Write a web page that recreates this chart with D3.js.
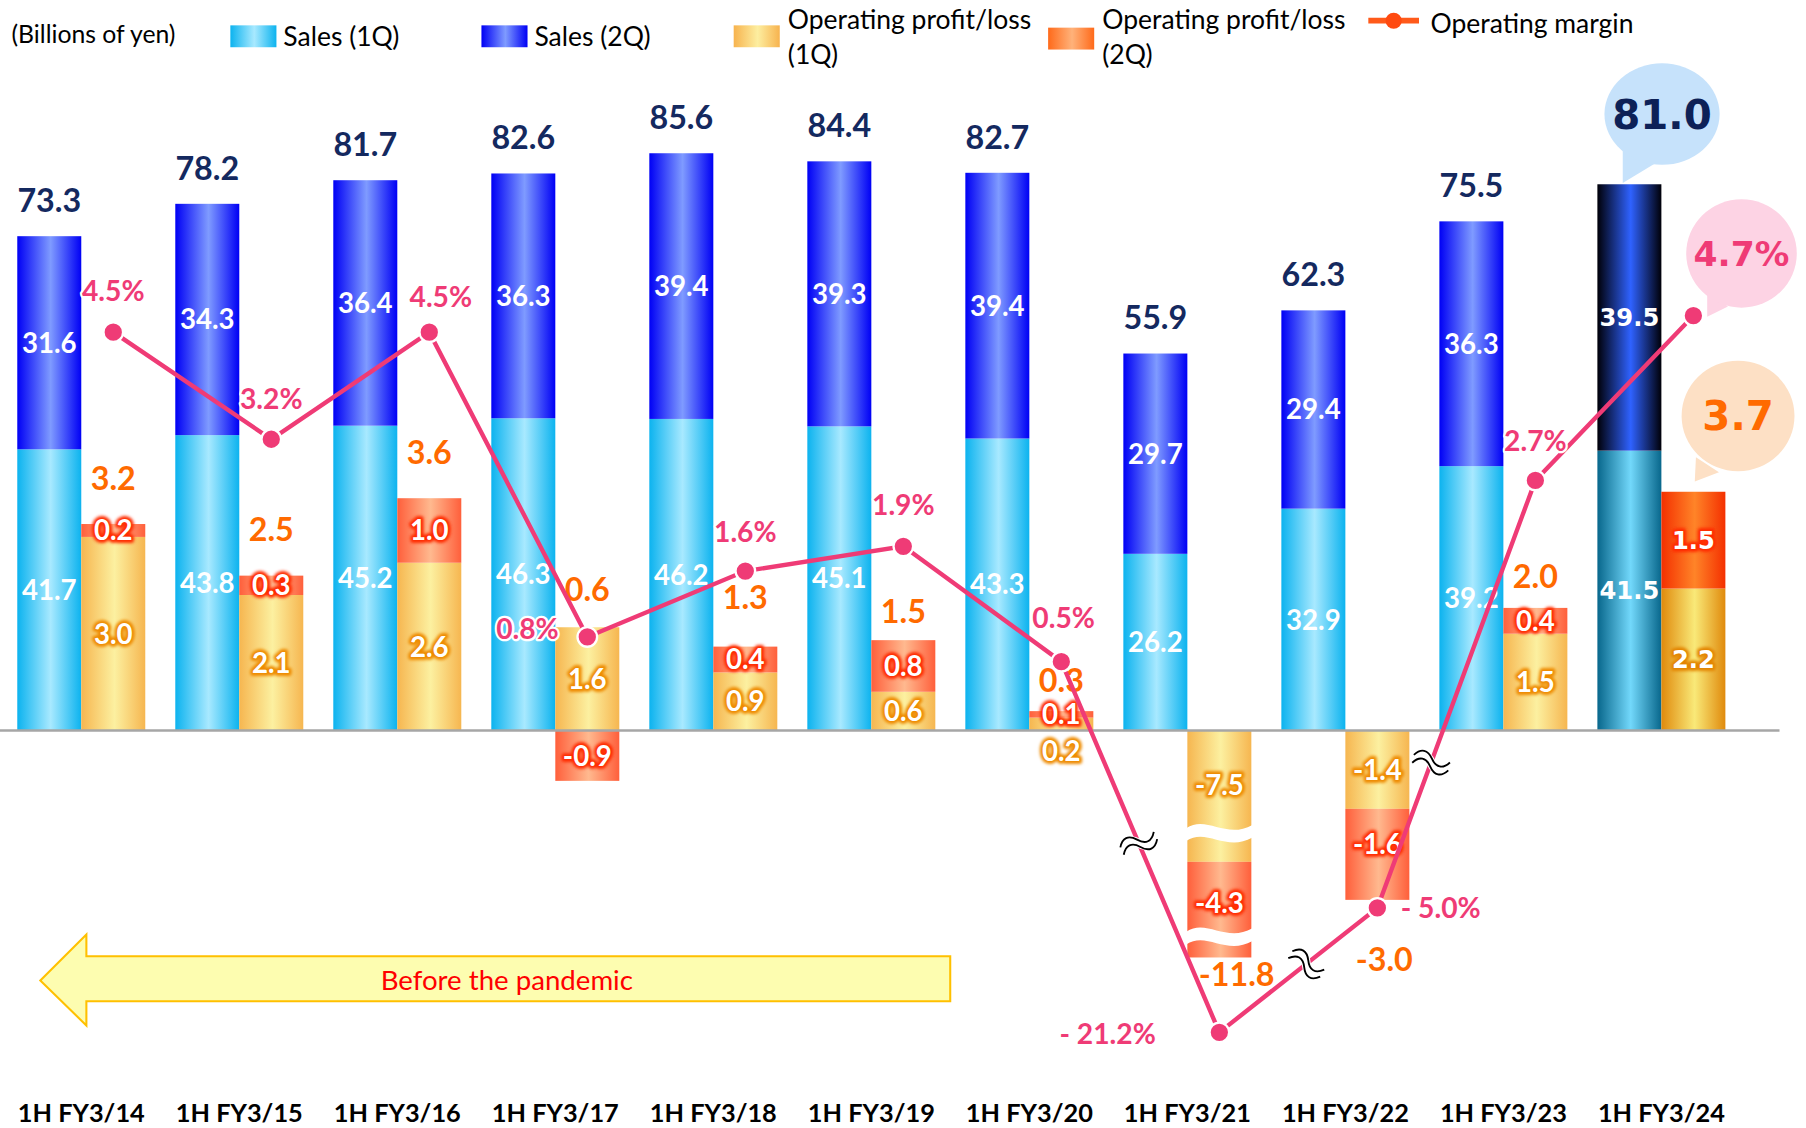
<!DOCTYPE html>
<html><head><meta charset="utf-8">
<script src="https://cdn.jsdelivr.net/npm/d3@7"></script>
<style>html,body{margin:0;padding:0;background:#fff;overflow:hidden}</style>
</head><body><svg id="chart"></svg>
<script>
// ---------- DATA ----------
const categories = ["1H FY3/14","1H FY3/15","1H FY3/16","1H FY3/17","1H FY3/18","1H FY3/19","1H FY3/20","1H FY3/21","1H FY3/22","1H FY3/23","1H FY3/24"];
const sales1Q = [41.7, 43.8, 45.2, 46.3, 46.2, 45.1, 43.3, 26.2, 32.9, 39.2, 41.5];
const sales2Q = [31.6, 34.3, 36.4, 36.3, 39.4, 39.3, 39.4, 29.7, 29.4, 36.3, 39.5];
const salesTotal = [73.3, 78.2, 81.7, 82.6, 85.6, 84.4, 82.7, 55.9, 62.3, 75.5, 81.0];
const profit1Q = [3.0, 2.1, 2.6, 1.6, 0.9, 0.6, 0.2, -7.5, -1.4, 1.5, 2.2];
const profit2Q = [0.2, 0.3, 1.0, -0.9, 0.4, 0.8, 0.1, -4.3, -1.6, 0.4, 1.5];
const profitTotal = [3.2, 2.5, 3.6, 0.6, 1.3, 1.5, 0.3, -11.8, -3.0, 2.0, 3.7];
const margin = [4.5, 3.2, 4.5, 0.8, 1.6, 1.9, 0.5, -21.2, -5.0, 2.7, 4.7];
const marginLabels = ["4.5%","3.2%","4.5%","0.8%","1.6%","1.9%","0.5%","- 21.2%","- 5.0%","2.7%","4.7%"];
const legendItems = ["Sales (1Q)","Sales (2Q)","Operating profit/loss|(1Q)","Operating profit/loss|(2Q)","Operating margin"];
const unitLabel = "(Billions of yen)";
const arrowLabel = "Before the pandemic";
const highlightCat = "1H FY3/24";
const brokenCat = "1H FY3/21";

// ---------- LAYOUT (drawing space 1568 x 979, scaled to window) ----------
const VW = 1568, VH = 979;
const CAL = "Lato, 'Open Sans', sans-serif";
const VER = "'DejaVu Sans', Verdana, sans-serif";
const PINK = "#ef3b76", ORANGE = "#ff6a00", NAVY = "#14295f";

const svg = d3.select('#chart').attr('width', 1806).attr('height', 1128)
  .attr('viewBox', `0 0 ${VW} ${VH}`).attr('preserveAspectRatio', 'none');

const x = d3.scaleBand().domain(categories).range([15, 1498]).paddingInner(0.19).paddingOuter(0);
const sub = d3.scaleBand().domain(['sales','profit']).range([0, x.bandwidth()]);
const ySales = d3.scaleLinear().domain([0, 85.6]).range([634, 133]);
const yProfit = d3.scaleLinear().domain([-3.0, -1.4, 0, 4]).range([781, 702, 634, 410]);
const yProfitBroken = d3.scaleLinear().domain([-11.8, -7.5, 0]).range([831, 748, 634]);
const yMargin = d3.scaleLinear().domain([-21.2, -5.0, 0, 4.7]).range([896, 788, 610, 274]);

// ---------- GRADIENTS ----------
const defs = svg.append('defs');
const palettes = {
  s1: ['#0cb3ef', '#a8e9ff'], s2: ['#0000f5', '#7f9bff'],
  p1: ['#f6b650', '#fcf0a0'], p2: ['#ff5f3b', '#ffb98f'],
  s1h: ['#08678c', '#72d8fb'], s2h: ['#000008', '#2f62ff'],
  p1h: ['#e08a0c', '#f9e978'], p2h: ['#f43000', '#ff8428'],
  l3: ['#f7b34e', '#fdeea0'], l4: ['#ff6a1a', '#ffb27a']
};
Object.entries(palettes).forEach(([k, [e, c]]) => {
  const g = defs.append('linearGradient').attr('id', 'g_' + k).attr('x1', '0%').attr('x2', '100%').attr('y1', '0%').attr('y2', '0%');
  g.append('stop').attr('offset', '0%').attr('stop-color', e);
  g.append('stop').attr('offset', '52%').attr('stop-color', c);
  g.append('stop').attr('offset', '100%').attr('stop-color', e);
});
const blur = defs.append('filter').attr('id', 'glow').attr('x', '-20%').attr('y', '-20%').attr('width', '140%').attr('height', '140%');
blur.append('feGaussianBlur').attr('stdDeviation', 1.2);

// ---------- BARS ----------
const gBars = svg.append('g');
categories.forEach((c, i) => {
  const hl = c === highlightCat;
  const sx = x(c) + sub('sales'), px = x(c) + sub('profit'), w = sub.bandwidth();
  gBars.append('rect').attr('x', sx).attr('width', w)
    .attr('y', ySales(sales1Q[i])).attr('height', ySales(0) - ySales(sales1Q[i]))
    .attr('fill', `url(#g_${hl ? 's1h' : 's1'})`);
  gBars.append('rect').attr('x', sx).attr('width', w)
    .attr('y', ySales(sales1Q[i] + sales2Q[i])).attr('height', ySales(sales1Q[i]) - ySales(sales1Q[i] + sales2Q[i]))
    .attr('fill', `url(#g_${hl ? 's2h' : 's2'})`);
  const ys = c === brokenCat ? yProfitBroken : yProfit;
  const a1 = [0, profit1Q[i]];
  const a2 = (Math.sign(profit2Q[i]) === Math.sign(profit1Q[i])) ? [profit1Q[i], profit1Q[i] + profit2Q[i]] : [0, profit2Q[i]];
  [[a1, hl ? 'p1h' : 'p1'], [a2, hl ? 'p2h' : 'p2']].forEach(([seg, k]) => {
    const y0 = ys(seg[0]), y1 = ys(seg[1]);
    gBars.append('rect').attr('x', px).attr('width', w)
      .attr('y', Math.min(y0, y1)).attr('height', Math.abs(y1 - y0))
      .attr('fill', `url(#g_${k})`);
    if (c === brokenCat) {
      const yc = Math.min(y0, y1) + 0.78 * Math.abs(y1 - y0);
      gBars.append('path').attr('fill', '#fff')
        .attr('d', `M${px - 1},${yc - 4} C${px + w * 0.3},${yc - 16} ${px + w * 0.6},${yc + 6} ${px + w + 1},${yc - 7}
                    L${px + w + 1},${yc + 4} C${px + w * 0.6},${yc + 17} ${px + w * 0.3},${yc - 5} ${px - 1},${yc + 7} Z`);
    }
  });
});

svg.append('line').attr('x1', 0).attr('x2', 1545).attr('y1', yProfit(0)).attr('y2', yProfit(0))
  .attr('stroke', '#a6a6a6').attr('stroke-width', 2);

// ---------- TEXT HELPERS ----------
function glowText(g, tx, ty, t, size, stroke, fam) {
  g.append('text').attr('x', tx).attr('y', ty).attr('dy', '0.36em').attr('text-anchor', 'middle')
    .attr('font-family', fam).attr('font-weight', 700).attr('font-size', size)
    .attr('fill', stroke).attr('stroke', stroke).attr('stroke-width', 5).attr('stroke-linejoin', 'round')
    .attr('filter', 'url(#glow)').text(t);
  g.append('text').attr('x', tx).attr('y', ty).attr('dy', '0.36em').attr('text-anchor', 'middle')
    .attr('font-family', fam).attr('font-weight', 700).attr('font-size', size)
    .attr('fill', '#fff').text(t);
}
function plainText(g, tx, ty, t, size, fill, fam, outline) {
  const el = g.append('text').attr('x', tx).attr('y', ty).attr('dy', '0.36em').attr('text-anchor', 'middle')
    .attr('font-family', fam).attr('font-weight', 700).attr('font-size', size).attr('fill', fill).text(t);
  if (outline) el.attr('stroke', outline).attr('stroke-width', 4).attr('stroke-linejoin', 'round').attr('paint-order', 'stroke');
  return el;
}

// ---------- BAR LABELS ----------
const gLab = svg.append('g');
const profitTotalGap = {"1H FY3/17": 33, "1H FY3/18": 43, "1H FY3/19": 25, "1H FY3/20": 27, "1H FY3/23": 27};
const profitNegTotal = {"1H FY3/21": [15, 15], "1H FY3/22": [6, 52]};
categories.forEach((c, i) => {
  const hl = c === highlightCat;
  const fam = hl ? VER : CAL, inner = hl ? 21 : 24;
  const scx = x(c) + sub('sales') + sub.bandwidth() / 2, pcx = x(c) + sub('profit') + sub.bandwidth() / 2;
  plainText(gLab, scx, (ySales(0) + ySales(sales1Q[i])) / 2, sales1Q[i].toFixed(1), inner, '#fff', fam);
  plainText(gLab, scx, (ySales(sales1Q[i]) + ySales(sales1Q[i] + sales2Q[i])) / 2, sales2Q[i].toFixed(1), inner, '#fff', fam);
  if (!hl) plainText(gLab, scx, ySales(sales1Q[i] + sales2Q[i]) - 31, salesTotal[i].toFixed(1), 28, NAVY, CAL);
  const ys = c === brokenCat ? yProfitBroken : yProfit;
  const a1 = [0, profit1Q[i]];
  const a2 = (Math.sign(profit2Q[i]) === Math.sign(profit1Q[i])) ? [profit1Q[i], profit1Q[i] + profit2Q[i]] : [0, profit2Q[i]];
  const segMid = seg => {
    const y0 = ys(seg[0]), y1 = ys(seg[1]);
    if (c === brokenCat) return Math.min(y0, y1) + 0.78 * Math.abs(y1 - y0) / 2 + 3;
    return (y0 + y1) / 2;
  };
  let y1Lab = segMid(a1);
  if (Math.abs(ys(a1[1]) - ys(a1[0])) < 14) y1Lab = yProfit(0) + 18;
  glowText(gLab, pcx, y1Lab, profit1Q[i].toFixed(1), inner, hl ? '#e38400' : '#ee8a00', fam);
  glowText(gLab, pcx, segMid(a2) + (c === "1H FY3/22" ? -9 : 0), profit2Q[i].toFixed(1), inner, '#ff2a00', fam);
  if (!hl) {
    if (profitTotal[i] >= 0) {
      const top = Math.min(ys(a1[1]), ys(a2[1]), ys(0));
      plainText(gLab, pcx, top - (profitTotalGap[c] || 40), profitTotal[i].toFixed(1), 28, ORANGE, CAL, '#fff');
    } else {
      const bot = Math.max(ys(a1[1]), ys(a2[1]));
      const [dx, dy] = profitNegTotal[c] || [0, 20];
      plainText(gLab, pcx + dx, bot + dy, profitTotal[i].toFixed(1), 28, ORANGE, CAL, '#fff');
    }
  }
});

// ---------- MARGIN LINE ----------
const mx = i => x(categories[i]) + sub('profit') + sub.bandwidth() / 2;
const gLine = svg.append('g');
gLine.append('path').datum(margin)
  .attr('d', d3.line().x((d, i) => mx(i)).y(d => yMargin(d)))
  .attr('fill', 'none').attr('stroke', PINK).attr('stroke-width', 3.8);

const breaks = [[6, 0.49, -25], [7, 0.55, 30], [8, 0.34, 12]];
breaks.forEach(([i, t, rot]) => {
  const bx = mx(i) + t * (mx(i + 1) - mx(i));
  const by = yMargin(margin[i]) + t * (yMargin(margin[i + 1]) - yMargin(margin[i]));
  const g = gLine.append('g').attr('transform', `translate(${bx},${by}) rotate(${rot})`);
  const tilde = "M-16,0 C-11,-7 -5,-7 0,0 S11,7 16,0";
  g.append('path').attr('d', tilde).attr('fill', 'none').attr('stroke', '#fff').attr('stroke-width', 8);
  [-3.5, 3.5].forEach(o => g.append('path').attr('d', tilde).attr('transform', `translate(0,${o})`)
    .attr('fill', 'none').attr('stroke', '#000').attr('stroke-width', 1.6));
});

gLine.selectAll('circle.pt').data(margin).join('circle').attr('class', 'pt')
  .attr('cx', (d, i) => mx(i)).attr('cy', d => yMargin(d)).attr('r', 8.5)
  .attr('fill', PINK).attr('stroke', '#fff').attr('stroke-width', 2);

const marginOff = [[0, -36], [0, -35], [10, -31], [-52, -7], [0, -34], [0, -36], [2, -38], [-97, 1], [55, 0], [0, -34]];
marginOff.forEach(([dx, dy], i) => {
  plainText(gLine, mx(i) + dx, yMargin(margin[i]) + dy, marginLabels[i], 24.5, PINK, CAL, '#fff');
});

// ---------- CALLOUT BUBBLES (last period) ----------
const hi = categories.indexOf(highlightCat);
const gB = svg.append('g');
function bubble(cx, cy, rx, ry, tail, fill, text, size, color) {
  gB.append('path').attr('d', `M${tail[0][0]},${tail[0][1]} L${tail[1][0]},${tail[1][1]} L${tail[2][0]},${tail[2][1]} Z`).attr('fill', fill);
  gB.append('ellipse').attr('cx', cx).attr('cy', cy).attr('rx', rx).attr('ry', ry).attr('fill', fill);
  gB.append('text').attr('x', cx).attr('y', cy).attr('dy', '0.36em').attr('text-anchor', 'middle')
    .attr('font-family', VER).attr('font-weight', 700).attr('font-size', size).attr('fill', color).text(text);
}
{
  const sx = x(highlightCat) + sub('sales'), px = x(highlightCat) + sub('profit');
  const sTop = ySales(sales1Q[hi] + sales2Q[hi]);
  bubble(1443, 99, 50, 44, [[sx + 22, sTop - 40], [sx + 22, sTop - 1], [sx + 50, sTop - 18]], '#c6e2fb', salesTotal[hi].toFixed(1), 35, '#0d2157');
  const mY = yMargin(margin[hi]);
  bubble(1512, 220, 48, 47, [[mx(hi) + 12, mY - 22], [mx(hi) + 12, mY + 1], [mx(hi) + 30, mY - 8]], '#fdd3e4', marginLabels[hi], 30, PINK);
  const pTop = yProfit(profit1Q[hi] + profit2Q[hi]);
  bubble(1509, 361, 49, 48, [[px + 30, pTop - 30], [px + 29, pTop - 9], [px + 50, pTop - 17]], '#fde0c5', profitTotal[hi].toFixed(1), 35, ORANGE);
}

// ---------- X AXIS ----------
const ax = svg.append('g').attr('transform', 'translate(0,966)')
  .call(d3.axisBottom(x).tickSize(0).tickPadding(0));
ax.select('.domain').remove();
ax.selectAll('text').attr('y', 0).attr('dy', '0.36em')
  .attr('font-family', CAL).attr('font-weight', 700).attr('font-size', 22).attr('fill', '#000');

// ---------- ARROW ----------
const gA = svg.append('g');
gA.append('path').attr('d', 'M35,851 L75,811 L75,830 L825,830 L825,869 L75,869 L75,890 Z')
  .attr('fill', '#fdfdb0').attr('stroke', '#ffc000').attr('stroke-width', 1.8);
gA.append('text').attr('x', 440).attr('y', 851).attr('dy', '0.36em').attr('text-anchor', 'middle')
  .attr('font-family', CAL).attr('font-size', 24).attr('fill', '#ff0000').text(arrowLabel);

// ---------- LEGEND ----------
const gL = svg.append('g').attr('font-family', CAL).attr('font-size', 23).attr('fill', '#000');
gL.append('text').attr('x', 10).attr('y', 30).attr('dy', '0.36em').attr('font-size', 21.5).text(unitLabel);
const sw = [[200, 22, 's1'], [418, 22, 's2'], [637, 22, 'l3'], [910, 24, 'l4']];
sw.forEach(([lx, ly, k], j) => {
  gL.append('rect').attr('x', lx).attr('y', ly).attr('width', 40).attr('height', 19).attr('fill', `url(#g_${k})`);
  const parts = legendItems[j].split('|');
  if (parts.length === 1) {
    gL.append('text').attr('x', lx + 46).attr('y', 32).attr('dy', '0.36em').text(parts[0]);
  } else {
    gL.append('text').attr('x', lx + 47).attr('y', 17).attr('dy', '0.36em').text(parts[0]);
    gL.append('text').attr('x', lx + 47).attr('y', 47).attr('dy', '0.36em').text(parts[1]);
  }
});
gL.append('line').attr('x1', 1188).attr('x2', 1232).attr('y1', 18).attr('y2', 18).attr('stroke', '#ff5a1a').attr('stroke-width', 5);
gL.append('circle').attr('cx', 1210).attr('cy', 18).attr('r', 7).attr('fill', '#ff4a10');
gL.append('text').attr('x', 1242).attr('y', 20).attr('dy', '0.36em').text(legendItems[4]);
</script></body></html>
